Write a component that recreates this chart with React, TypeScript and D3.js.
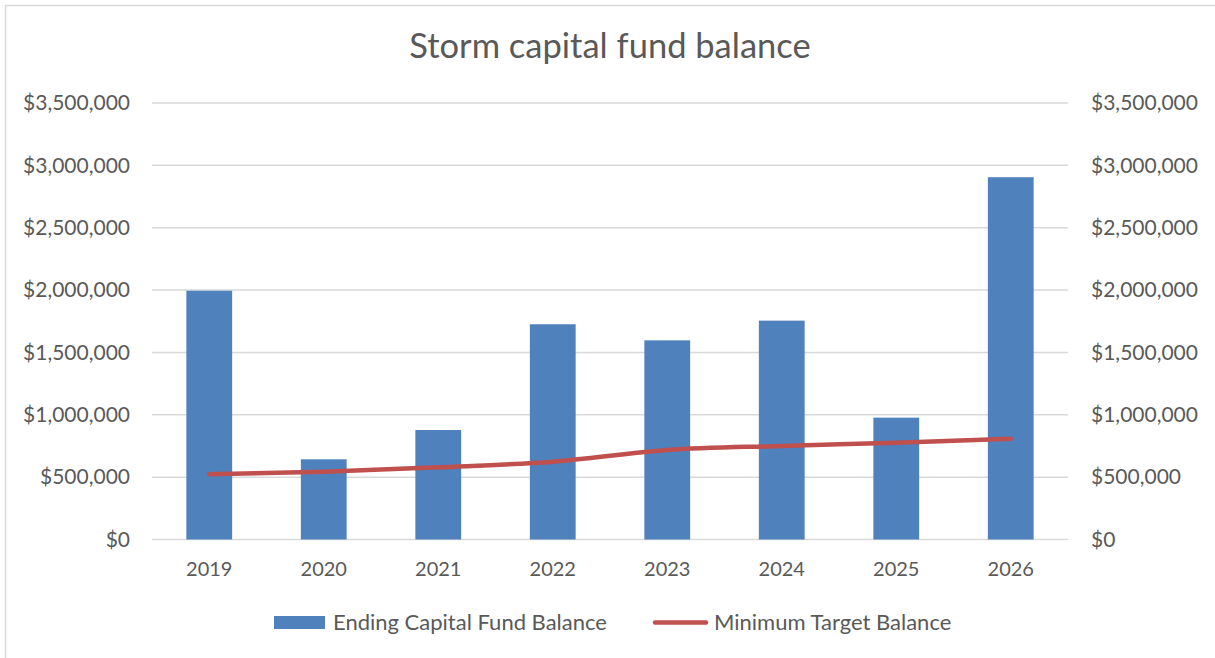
import { useRef, useEffect } from 'react';
import * as d3 from 'd3';

// data
const YEARS = ['2019', '2020', '2021', '2022', '2023', '2024', '2025', '2026'];
const ENDING_BALANCE = [1995000, 643000, 878000, 1726000, 1597000, 1755000, 977000, 2905000];
const MIN_TARGET = [523000, 544000, 579000, 624000, 718000, 750000, 776000, 808000];
const Y_TICKS = [0, 500000, 1000000, 1500000, 2000000, 2500000, 3000000, 3500000];

const TITLE = 'Storm capital fund balance';
const SERIES_NAMES = ['Ending Capital Fund Balance', 'Minimum Target Balance'];

const BLUE = '#4F81BD';
const RED = '#C0504D';
const TEXT = '#595959';
const GRID = '#D9D9D9';
const FONT = 'Lato, "Open Sans", sans-serif';

export default function App() {
  const ref = useRef<SVGSVGElement>(null);

  useEffect(() => {
    if (!ref.current) return;
    const width = 1215;
    const height = 658;
    const left = 152;
    const right = 1068;
    const top = 103;
    const bottom = 539.5;

    const svg = d3.select(ref.current);
    svg.selectAll('*').remove();
    svg.attr('width', width).attr('height', height);

    svg.append('rect')
      .attr('width', width).attr('height', height).attr('fill', '#fff');
    // chart frame (only top/left edges are visible in the shot)
    svg.append('rect')
      .attr('x', 5.5).attr('y', 5.5)
      .attr('width', width + 20).attr('height', height + 20)
      .attr('fill', 'none').attr('stroke', GRID).attr('stroke-width', 1.5);

    const x = d3.scaleBand<string>().domain(YEARS).range([left, right]).paddingInner(0.6).paddingOuter(0.3);
    const y = d3.scaleLinear().domain([0, 3500000]).range([bottom, top]);
    const fmt = (v: number) => '$' + d3.format(',')(v);

    svg.append('text')
      .attr('x', 610).attr('y', 58)
      .attr('text-anchor', 'middle')
      .attr('font-family', FONT).attr('font-size', 34.5)
      .attr('fill', TEXT)
      .text(TITLE);

    // gridlines
    svg.append('g')
      .selectAll('line')
      .data(Y_TICKS)
      .join('line')
      .attr('x1', left).attr('x2', right)
      .attr('y1', (d) => y(d)).attr('y2', (d) => y(d))
      .attr('stroke', GRID).attr('stroke-width', 1.5);

    // left + right axis labels
    const ax = svg.append('g').attr('font-family', FONT).attr('font-size', 21).attr('fill', TEXT);
    ax.selectAll('text.l')
      .data(Y_TICKS)
      .join('text')
      .attr('class', 'l')
      .attr('x', 130).attr('y', (d) => y(d))
      .attr('dy', '0.35em')
      .attr('text-anchor', 'end')
      .text(fmt);
    ax.selectAll('text.r')
      .data(Y_TICKS)
      .join('text')
      .attr('class', 'r')
      .attr('x', 1091).attr('y', (d) => y(d))
      .attr('dy', '0.35em')
      .attr('text-anchor', 'start')
      .text(fmt);

    // bars
    svg.append('g')
      .selectAll('rect')
      .data(ENDING_BALANCE)
      .join('rect')
      .attr('x', (_d, i) => x(YEARS[i])!)
      .attr('width', x.bandwidth())
      .attr('y', (d) => y(d))
      .attr('height', (d) => bottom - y(d))
      .attr('fill', BLUE);

    // x labels
    ax.selectAll('text.x')
      .data(YEARS)
      .join('text')
      .attr('class', 'x')
      .attr('x', (d) => x(d)! + x.bandwidth() / 2)
      .attr('y', 576)
      .attr('font-size', 20)
      .attr('text-anchor', 'middle')
      .text((d) => d);

    // target line
    const line = d3.line<number>()
      .x((_d, i) => x(YEARS[i])! + x.bandwidth() / 2)
      .y((d) => y(d))
      .curve(d3.curveMonotoneX);
    svg.append('path')
      .datum(MIN_TARGET)
      .attr('d', line)
      .attr('fill', 'none')
      .attr('stroke', RED)
      .attr('stroke-width', 4.5)
      .attr('stroke-linecap', 'round');

    // legend
    const lg = svg.append('g').attr('font-family', FONT).attr('font-size', 22).attr('fill', TEXT);
    lg.append('rect').attr('x', 274).attr('y', 616).attr('width', 51).attr('height', 13).attr('fill', BLUE);
    lg.append('text').attr('x', 333).attr('y', 622).attr('dy', '0.35em').text(SERIES_NAMES[0]);
    lg.append('line')
      .attr('x1', 655).attr('x2', 706).attr('y1', 622.5).attr('y2', 622.5)
      .attr('stroke', RED).attr('stroke-width', 4.5).attr('stroke-linecap', 'round');
    lg.append('text').attr('x', 714).attr('y', 622).attr('dy', '0.35em').text(SERIES_NAMES[1]);
  }, []);

  return (
    <div style={{ position: 'absolute', left: 0, top: 0 }}>
      <svg ref={ref} style={{ display: 'block' }}></svg>
    </div>
  );
}
